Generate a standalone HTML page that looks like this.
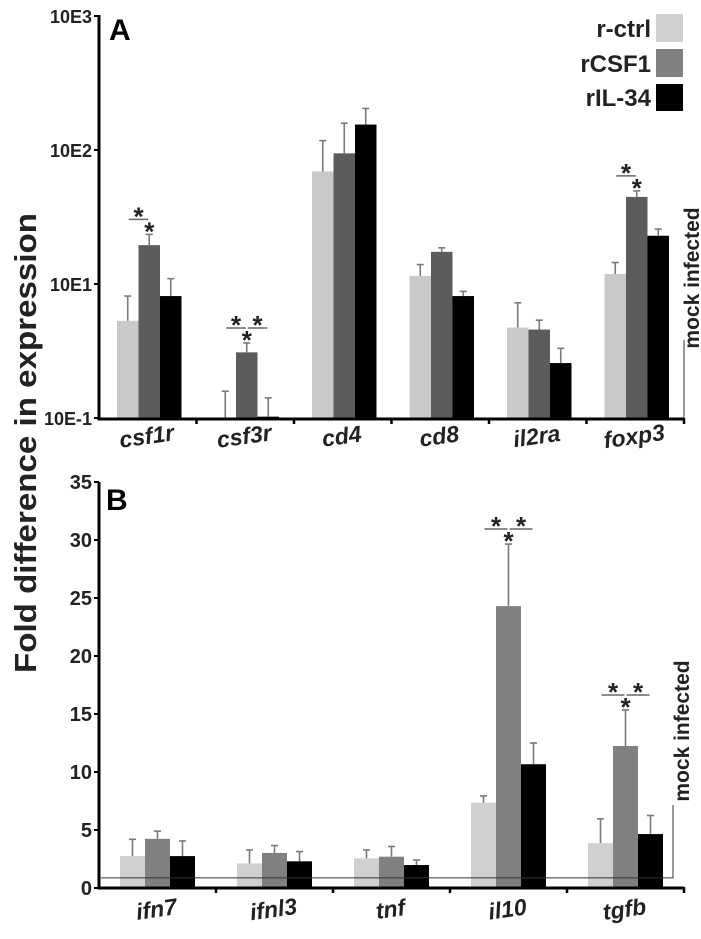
<!DOCTYPE html>
<html><head><meta charset="utf-8"><style>
html,body{margin:0;padding:0;background:#fff;}
svg{display:block;font-family:"Liberation Sans",Arial,sans-serif;}
</style></head><body>
<svg id="fig" width="701" height="939" viewBox="0 0 701 939">
<text x="0" y="0" transform="translate(36,443) rotate(-90)" text-anchor="middle" font-size="31" font-weight="bold" fill="#222" textLength="460" lengthAdjust="spacingAndGlyphs">Fold difference in expression</text>
<text x="109" y="40" font-size="30" font-weight="bold">A</text>
<text x="106" y="510" font-size="30" font-weight="bold">B</text>
<g font-size="24" font-weight="bold" text-anchor="end" fill="#222">
<text x="651" y="37">r-ctrl</text>
<rect x="656" y="14" width="27" height="28" fill="#cfcfcf"/>
<text x="651" y="72">rCSF1</text>
<rect x="656" y="49" width="27" height="28" fill="#808080"/>
<text x="651" y="106">rIL-34</text>
<rect x="656" y="84" width="27" height="27" fill="#000"/>
</g>
<g id="pa"></g>
<g id="pb"></g>
</svg>
<script>
// Panel A (log10 decades above baseline)
const catsA = ["csf1r","csf3r","cd4","cd8","il2ra","foxp3"];
const ctrlA = [0.725,0,1.84,1.06,0.675,1.075];
const ctrlErrA = [0.91,0.2,2.07,1.145,0.86,1.16];
const csfA = [1.29,0.49,1.975,1.24,0.66,1.65];
const csfErrA = [1.37,0.56,2.2,1.27,0.73,1.695];
const ilA = [0.91,0.01,2.19,0.91,0.41,1.36];
const ilErrA = [1.04,0.15,2.31,0.945,0.52,1.41];
const ticksA = ["10E-1","10E1","10E2","10E3"];
const tickValsA = [0,1,2,3];
const sigA = [[0,1,0],[1,1,1],[5,1,0]];
// Panel B (linear)
const catsB = ["ifn7","ifnl3","tnf","il10","tgfb"];
const ctrlB = [2.75,2.12,2.56,7.35,3.87];
const ctrlErrB = [4.2,3.28,3.28,7.94,5.96];
const csfB = [4.24,3.02,2.7,24.3,12.24];
const csfErrB = [4.9,3.66,3.58,29.65,15.35];
const ilB = [2.75,2.3,1.98,10.67,4.65];
const ilErrB = [4.06,3.14,2.41,12.5,6.25];
const ticksB = [0,5,10,15,20,25,30,35];
const sigB = [[3,1,1],[4,1,1]];
const mockB = 0.87;

const NS="http://www.w3.org/2000/svg";
function mk(parent,tag,attrs){const e=document.createElementNS(NS,tag);for(const k in attrs)e.setAttribute(k,attrs[k]);parent.appendChild(e);return e;}

function drawPanel(g,cfg){
  const {cats,series,errs,colors,y,x0,x1,y0,ytop,gw,off,bw,tickVals,tickLabels,sig}=cfg;
  cats.forEach((c,i)=>{
    series.forEach((s,k)=>{
      const bx=x0+i*gw+off+k*bw;
      const v=s[i], top=y(v);
      if(y0-top>0.5){
        const r=mk(g,'rect',{x:bx,y:top,width:bw,height:y0-top,fill:colors[k]});
        
        
      }
      const et=y(errs[k][i]), cx=bx+bw/2;
      const eg=mk(g,'g',{stroke:'#7a7a7a','stroke-width':1.6});
      
      
      mk(eg,'line',{x1:cx,x2:cx,y1:Math.min(top,y0),y2:et});
      mk(eg,'line',{x1:cx-3.5,x2:cx+3.5,y1:et,y2:et});
    });
    const lbl=mk(g,'text',{x:0,y:0,transform:`translate(${x0+i*gw+gw/2},${cfg.labY}) rotate(-8)`,'text-anchor':'middle','font-size':23,'font-style':'italic','font-weight':'bold',fill:'#222'});
    lbl.textContent=c;
    
    
  });
  sig.forEach(([i,a,b])=>{
    const cxs=[0,1,2].map(k=>x0+i*gw+off+k*bw+bw/2);
    const et=y(errs[1][i]);
    const sg=mk(g,'g',{});
    
    
    const star=(x,yc)=>{const t=mk(sg,'text',{x:x,y:yc+13,'text-anchor':'middle','font-size':26,'font-weight':'bold',fill:'#222'});t.textContent='*';};
    star(cxs[1],et-7);
    const ly=et-15;
    if(a){mk(sg,'line',{x1:cxs[0]+1,x2:cxs[1]-1,y1:ly,y2:ly,stroke:'#666','stroke-width':1.5});star((cxs[0]+cxs[1])/2,ly-7);}
    if(b){mk(sg,'line',{x1:cxs[1]+1,x2:cxs[2]-1,y1:ly,y2:ly,stroke:'#666','stroke-width':1.5});star((cxs[1]+cxs[2])/2,ly-7);}
  });
  const ax=mk(g,'g',{stroke:'#000','stroke-width':3,fill:'none'});
  
  
  mk(ax,'line',{x1:x0,x2:x0,y1:ytop,y2:y0+1.5});
  mk(ax,'line',{x1:x0-1.5,x2:x1,y1:y0+1,y2:y0+1});
  for(let i=1;i<=cats.length;i++){mk(ax,'line',{x1:x0+i*gw,x2:x0+i*gw,y1:y0,y2:y0+6,'stroke-width':2.5});}
  tickVals.forEach((v,j)=>{
    const ty=y(v);
    mk(ax,'line',{x1:x0-5,x2:x0,y1:ty,y2:ty,'stroke-width':2});
    const t=mk(g,'text',{x:x0-7,y:ty+7,'text-anchor':'end','font-size':cfg.tickFont,'font-weight':'bold',fill:'#222'});
    t.textContent=tickLabels[j];
    
    
  });
}

const pa=document.getElementById('pa');
const yA=v=>418-v*134;
drawPanel(pa,{cats:catsA,series:[ctrlA,csfA,ilA],errs:[ctrlErrA,csfErrA,ilErrA],colors:['#c9c9c9','#5c5c5c','#000'],
  y:yA,x0:99,x1:684,y0:418,ytop:15,gw:97.5,off:18,bw:21.5,tickVals:tickValsA,tickLabels:ticksA,sig:sigA,labY:444,tickFont:18});
const mA=mk(pa,'g',{});


mk(mA,'line',{x1:684,x2:684,y1:340,y2:418,stroke:'#333','stroke-width':1});
const tA=mk(mA,'text',{x:0,y:0,transform:'translate(699,278) rotate(-90)','text-anchor':'middle','font-size':21,'font-weight':'bold',fill:'#222'});
tA.textContent='mock infected';

const pb=document.getElementById('pb');
const yB=v=>888-v*11.6;
drawPanel(pb,{cats:catsB,series:[ctrlB,csfB,ilB],errs:[ctrlErrB,csfErrB,ilErrB],colors:['#d0d0d0','#808080','#000'],
  y:yB,x0:99,x1:684,y0:887,ytop:482,gw:117,off:21,bw:25,tickVals:ticksB,tickLabels:ticksB.map(String),sig:sigB,labY:917,tickFont:20});
const mB=mk(pb,'g',{});


mk(mB,'polyline',{points:`101,${yB(mockB)} 673,${yB(mockB)} 673,805`,fill:'none',stroke:'#333','stroke-width':1});
const tB=mk(mB,'text',{x:0,y:0,transform:'translate(689,731) rotate(-90)','text-anchor':'middle','font-size':21,'font-weight':'bold',fill:'#222'});
tB.textContent='mock infected';
</script>
</body></html>
